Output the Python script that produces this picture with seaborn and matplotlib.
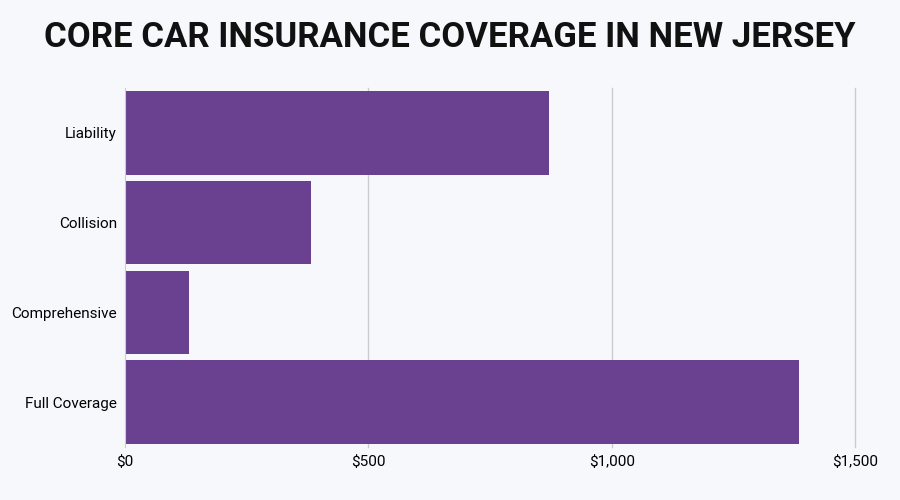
import matplotlib
matplotlib.use("Agg")
import matplotlib.pyplot as plt
import seaborn as sns
import pandas as pd

categories = ["Liability", "Collision", "Comprehensive", "Full Coverage"]
values = [871, 382, 131, 1385]
tick_vals = [0, 500, 1000, 1500]
tick_labels = ["$0", "$500", "$1,000", "$1,500"]

df = pd.DataFrame({"cat": categories, "val": values})
bg = "#f7f8fc"
fig = plt.figure(figsize=(9, 5), dpi=100, facecolor=bg)
ax = fig.add_axes([0.139, 0.106, 0.811, 0.718], facecolor=bg)
sns.barplot(data=df, x="val", y="cat", color="#6a4190", saturation=1, width=0.93, ax=ax)
ax.set_xlim(0, 1500)
ax.set_xticks(tick_vals)
ax.set_xticklabels(tick_labels, fontsize=11, fontfamily="Roboto")
for t in ax.get_yticklabels():
    t.set_fontsize(11); t.set_fontfamily("Roboto")
ax.set_xlabel(""); ax.set_ylabel("")
ax.tick_params(length=0, pad=6)
for v in tick_vals[1:]:
    ax.axvline(v, color="#cccccc", lw=1, zorder=0, clip_on=False)
for s in ["top", "right", "bottom"]:
    ax.spines[s].set_visible(False)
ax.spines["left"].set_color("#cccccc")
ax.set_axisbelow(True)
fig.text(0.5, 0.925, "CORE CAR INSURANCE COVERAGE IN NEW JERSEY", ha="center", va="center",
         fontsize=25, fontweight="bold", fontfamily="Roboto", color="#111111")
fig.savefig("out.png", dpi=100, facecolor=bg)
